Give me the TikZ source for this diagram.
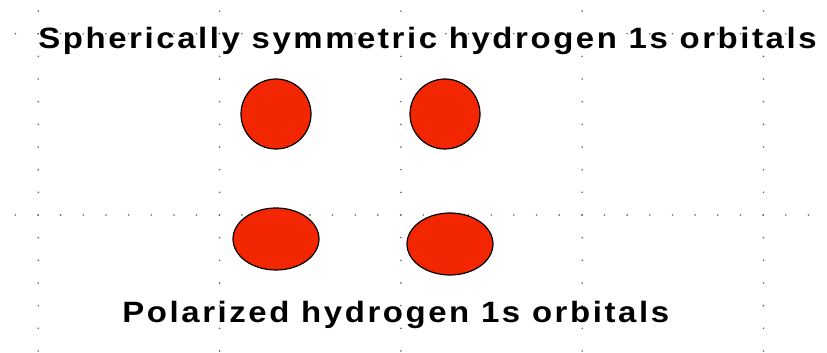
\documentclass[tikz,border=0pt]{standalone}
\usepackage{fontspec}
\setmainfont{Liberation Sans}
\newfontfamily\labelfont[LetterSpace=8.8, FakeStretch=1.12]{Liberation Sans}
\usepackage{tikz}
\usetikzlibrary{positioning, shapes.geometric}

\definecolor{orbitalred}{RGB}{242,38,0}

\begin{document}
\begin{tikzpicture}[
        x=0.5pt, y=-0.5pt,
        sphere_node/.style={draw=black, circle, fill=orbitalred, line width=0.6pt, minimum size=35pt, inner sep=0pt},
        polar_node/.style={draw=black, ellipse, fill=orbitalred, line width=0.6pt, minimum width=43pt, minimum height=31pt, inner sep=0pt},
        label_node/.style={font=\labelfont\bfseries\fontsize{14.7}{16}\selectfont, inner sep=0pt, anchor=base west},
        grid_dot/.style={fill=black!60, draw=none}
    ]
        \useasboundingbox (0,0) rectangle (827,353);

        % Grid dots
        \foreach \col in {0,...,4} {
            \foreach \k in {-9,...,6} {
                \fill [grid_dot] ({38.3+181.3*\col},{215+22.66*\k}) circle (0.9);
            }
        }
        \foreach \row in {33.7,215} {
            \foreach \k in {0,...,35} {
                \fill [grid_dot] ({15.3+22.66*\k},\row) circle (0.9);
            }
        }

        % Orbitals
        \node (s_left) [sphere_node] at (276,114) {};
        \node (s_right) [sphere_node] at (445,114) {};
        \node (p_left) [polar_node] at (276,239) {};
        \node (p_right) [polar_node] at (450,244) {};

        % Labels
        \node (top_label) [label_node] at (38,49) {Spherically symmetric hydrogen 1s orbitals};
        \node (bottom_label) [label_node] at (122,323) {Polarized hydrogen 1s orbitals};
    \end{tikzpicture}
\end{document}
